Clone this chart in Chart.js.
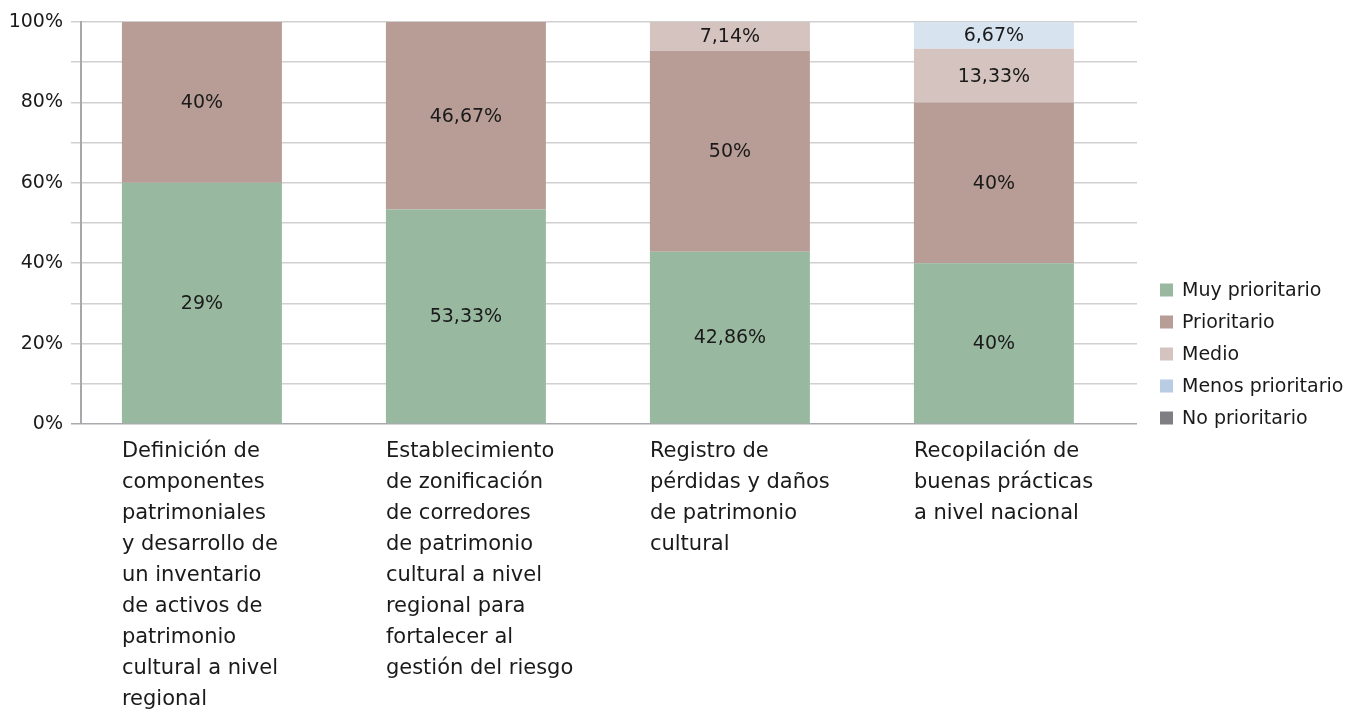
<!DOCTYPE html>
<html>
<head>
<meta charset="utf-8">
<script src="https://cdn.jsdelivr.net/npm/chart.js@4.4.1/dist/chart.umd.min.js"></script>
<style>
  html, body { margin: 0; padding: 0; background: #fff; }
  #wrap { width: 1359px; height: 720px; position: relative; }
</style>
</head>
<body>
<div id="wrap"><canvas id="prioridadChart"></canvas></div>
<script>
// categories (one line per array entry, as in the picture)
const categories = [
  ['Definición de', 'componentes', 'patrimoniales', 'y desarrollo de', 'un inventario', 'de activos de', 'patrimonio', 'cultural a nivel', 'regional'],
  ['Establecimiento', 'de zonificación', 'de corredores', 'de patrimonio', 'cultural a nivel', 'regional para', 'fortalecer al', 'gestión del riesgo'],
  ['Registro de', 'pérdidas y daños', 'de patrimonio', 'cultural'],
  ['Recopilación de', 'buenas prácticas', 'a nivel nacional']
];

const seriesNames = ['Muy prioritario', 'Prioritario', 'Medio', 'Menos prioritario', 'No prioritario'];

// segment heights (%)
const muyPrioritario   = [60, 53.33, 42.86, 40];
const prioritario      = [40, 46.67, 50, 40];
const medio            = [0, 0, 7.14, 13.33];
const menosPrioritario = [0, 0, 0, 6.67];
const noPrioritario    = [0, 0, 0, 0];

// printed labels (as shown on the chart)
const muyLabels   = ['29%', '53,33%', '42,86%', '40%'];
const priorLabels = ['40%', '46,67%', '50%', '40%'];
const medioLabels = ['', '', '7,14%', '13,33%'];
const menosLabels = ['', '', '', '6,67%'];
const noLabels    = ['', '', '', ''];

const yTicks = [0, 20, 40, 60, 80, 100];

const barColors    = ['#98b9a0', '#b89d96', '#d5c3bf', '#d8e3f0', '#7f7f83'];
const legendColors = ['#98b9a0', '#b89d96', '#d5c3bf', '#b8cce4', '#7f7f83'];

const FONT = '"DejaVu Sans", sans-serif';
const TEXT = '#1a1a1a';

const allSeries = [muyPrioritario, prioritario, medio, menosPrioritario, noPrioritario];
const allLabels = [muyLabels, priorLabels, medioLabels, menosLabels, noLabels];

const datasets = allSeries.map((vals, s) => ({
  label: seriesNames[s],
  data: vals.map((v, i) => ({ x: i, y: v })),
  backgroundColor: barColors[s],
  borderWidth: 0,
  barPercentage: 0.606,
  categoryPercentage: 1,
  printed: allLabels[s]
}));

// text inside the segments
const segmentLabels = {
  id: 'segmentLabels',
  afterDatasetsDraw(chart) {
    const ctx = chart.ctx;
    ctx.save();
    ctx.font = '19px ' + FONT;
    ctx.fillStyle = TEXT;
    ctx.textAlign = 'center';
    ctx.textBaseline = 'middle';
    chart.data.datasets.forEach((ds, d) => {
      chart.getDatasetMeta(d).data.forEach((bar, i) => {
        const txt = ds.printed[i];
        if (!txt || ds.data[i].y <= 0) return;
        ctx.fillText(txt, bar.x, (bar.y + bar.base) / 2 + 1);
      });
    });
    ctx.restore();
  }
};

// category text under each bar, left aligned with the bar
const categoryText = {
  id: 'categoryText',
  afterDraw(chart) {
    const ctx = chart.ctx;
    const meta = chart.getDatasetMeta(0);
    ctx.save();
    ctx.font = '21px ' + FONT;
    ctx.fillStyle = TEXT;
    ctx.textAlign = 'left';
    ctx.textBaseline = 'middle';
    meta.data.forEach((bar, i) => {
      const left = bar.x - bar.width / 2;
      categories[i].forEach((line, j) => {
        ctx.fillText(line, left, chart.chartArea.bottom + 28 + j * 31);
      });
    });
    ctx.restore();
  }
};

// legend at the right
const sideLegend = {
  id: 'sideLegend',
  afterDraw(chart) {
    const ctx = chart.ctx;
    const x0 = chart.chartArea.right + 23;
    const y0 = chart.chartArea.bottom - 134;
    ctx.save();
    ctx.font = '19px ' + FONT;
    ctx.textBaseline = 'middle';
    seriesNames.forEach((name, s) => {
      const y = y0 + s * 32;
      ctx.fillStyle = legendColors[s];
      ctx.fillRect(x0, y - 6.5, 13, 13);
      ctx.fillStyle = TEXT;
      ctx.fillText(name, x0 + 22, y + 1);
    });
    ctx.restore();
  }
};

const ctx = document.getElementById('prioridadChart').getContext('2d');
new Chart(ctx, {
  type: 'bar',
  data: { datasets },
  options: {
    responsive: true,
    maintainAspectRatio: false,
    animation: false,
    layout: { padding: { top: 22, right: 222, bottom: 296, left: 0 } },
    plugins: {
      legend: { display: false },
      tooltip: { enabled: false }
    },
    scales: {
      x: {
        type: 'linear',
        stacked: true,
        offset: false,
        bounds: 'data',
        min: -0.458,
        max: 3.542,
        display: false,
        grid: { offset: false },
        ticks: { stepSize: 1, includeBounds: false }
      },
      y: {
        stacked: true,
        min: 0,
        max: 100,
        afterFit(scale) { scale.width = 81; },
        ticks: {
          stepSize: 10,
          padding: 8,
          color: TEXT,
          font: { family: FONT, size: 19 },
          callback: v => yTicks.includes(v) ? v + '%' : ''
        },
        grid: {
          color: c => c.tick && c.tick.value === 0 ? '#aaaaae' : '#d0d0d0',
          lineWidth: 1.5,
          tickLength: 10
        },
        border: { color: '#a8a8ac', width: 2 }
      }
    }
  },
  plugins: [segmentLabels, categoryText, sideLegend]
});
</script>
</body>
</html>
